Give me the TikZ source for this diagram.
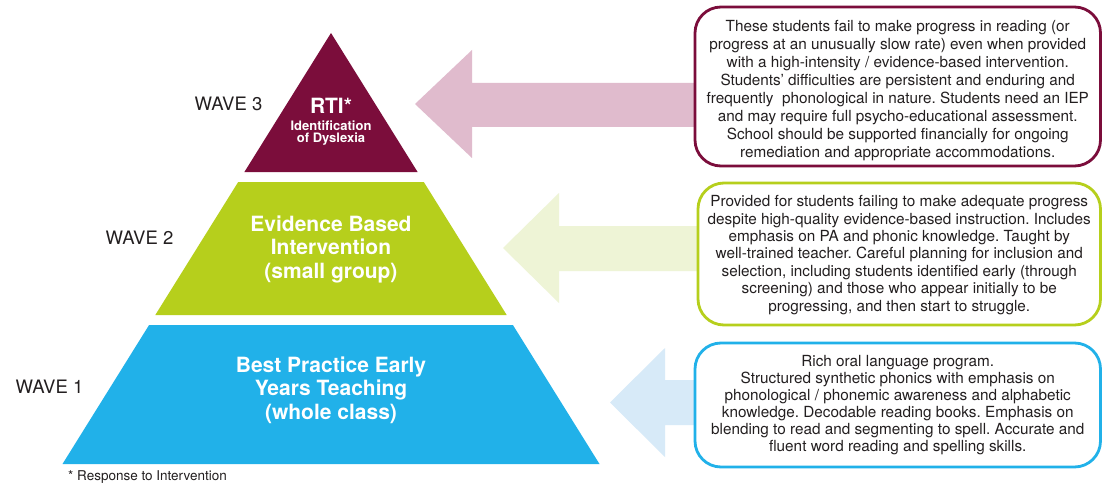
\documentclass[tikz,border=0pt]{standalone}
\usepackage{fontspec}
\setmainfont{TeX Gyre Heros}
\definecolor{maroon}{HTML}{7B0D3B}
\definecolor{lime}{HTML}{B6CF1C}
\definecolor{cyanblue}{HTML}{21B1E9}
\definecolor{pinkarrow}{HTML}{E0BBCD}
\definecolor{greenarrow}{HTML}{EEF4D6}
\definecolor{bluearrow}{HTML}{D7EAF8}
\definecolor{txt}{HTML}{231F20}
\begin{document}
\frenchspacing
\begin{tikzpicture}[x=1pt,y=-1pt,
  lvltext/.style={text=white,font=\bfseries\fontsize{21}{23.5}\selectfont,align=center,inner sep=0pt},
  smalllvl/.style={text=white,font=\bfseries\fontsize{13}{12.5}\selectfont,align=center,inner sep=0pt},
  wavelabel/.style={text=txt,font=\fontsize{18.5}{20}\selectfont,inner sep=0pt},
  infobox/.style={draw=#1,line width=2.8pt,fill=white,rounded corners=26pt,inner sep=0pt},
  boxtext/.style={text=txt,align=center,inner sep=0pt,font=\fontsize{15.3}{#1}\selectfont},
  blockarrow/.style={fill=#1,draw=none}
  ]
\useasboundingbox (0,0) rectangle (1103,484);
\fill[white] (0,0) rectangle (1103,484);

% pyramid levels
\fill[maroon] (331,33) -- (417.6,172) -- (244.4,172) -- cycle;
\fill[lime] (238.2,182) -- (423.8,182) -- (506.7,315) -- (155.3,315) -- cycle;
\fill[cyanblue] (149.1,325) -- (512.9,325) -- (599.5,464) -- (62.5,464) -- cycle;

% pyramid texts
\node[lvltext] (rti) at (331,106) {RTI*};
\node[smalllvl] (ident) at (331,133) {Identification\\of Dyslexia};
\node[lvltext] (ebi) at (331,249) {Evidence Based\\Intervention\\(small group)};
\node[lvltext] (bpt) at (331,390) {Best Practice Early\\Years Teaching\\(whole class)};

% wave labels
\node[wavelabel] (wave3) at (228.5,104) {WAVE 3};
\node[wavelabel] (wave2) at (139.5,237.5) {WAVE 2};
\node[wavelabel] (wave1) at (49.5,387) {WAVE 1};

% block arrows
\fill[blockarrow=pinkarrow] (415,104) -- (472,50) -- (472,83) -- (710,83) -- (710,127) -- (472,127) -- (472,158) -- cycle;
\fill[blockarrow=greenarrow] (503,248) -- (559,193) -- (559,226) -- (710,226) -- (710,271) -- (559,271) -- (559,303) -- cycle;
\fill[blockarrow=bluearrow] (610,402.5) -- (665,348) -- (665,380) -- (710,380) -- (710,425) -- (665,425) -- (665,457) -- cycle;

% boxes
\node[infobox=maroon, minimum width=405.5pt, minimum height=159pt] (box3) at (897.75,86.5) {};
\node[infobox=lime, minimum width=402.5pt, minimum height=142pt] (box2) at (899.25,254) {};
\node[infobox=cyanblue, minimum width=405.5pt, minimum height=124pt] (box1) at (897.75,405) {};

\node[boxtext=18] (box3text) at (897.75,91) {These students fail to make progress in reading (or\\
progress at an unusually slow rate) even when provided\\
with a high-intensity / evidence-based intervention.\\
Students’ difficulties are persistent and enduring and\\
frequently\ \ phonological in nature. Students need an IEP\\
and may require full psycho-educational assessment.\\
School should be supported financially for ongoing\\
remediation and appropriate accommodations.};

\node[boxtext=17.4] (box2text) at (899.25,255) {Provided for students failing to make adequate progress\\
despite high-quality evidence-based instruction. Includes\\
emphasis on PA and phonic knowledge. Taught by\\
well-trained teacher. Careful planning for inclusion and\\
selection, including students identified early (through\\
screening) and those who appear initially to be\\
progressing, and then start to struggle.};

\node[boxtext=17] (box1text) at (897.75,405.5) {Rich oral language program.\\
Structured synthetic phonics with emphasis on\\
phonological / phonemic awareness and alphabetic\\
knowledge. Decodable reading books. Emphasis on\\
blending to read and segmenting to spell. Accurate and\\
fluent word reading and spelling skills.};

% footnote
\node[text=txt,font=\fontsize{13.5}{15}\selectfont,inner sep=0pt] (foot) at (147.5,477) {* Response to Intervention};
\end{tikzpicture}
\end{document}
